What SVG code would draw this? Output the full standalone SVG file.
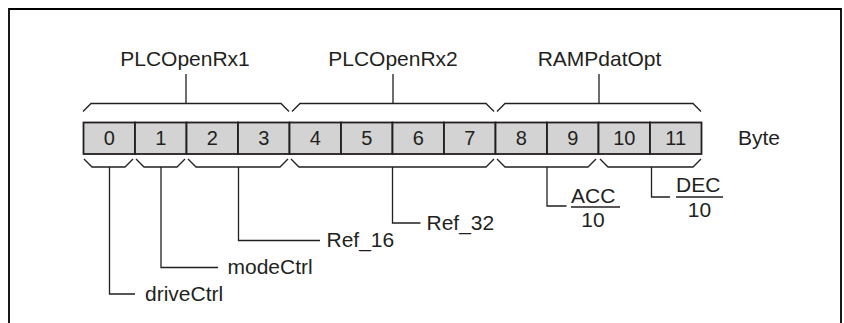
<svg xmlns="http://www.w3.org/2000/svg" width="844" height="323" viewBox="0 0 844 323">
<style>
.t{font-family:"Liberation Sans",Arial,sans-serif;font-size:21px;fill:#231f20}
.d{font-family:"Liberation Sans",Arial,sans-serif;font-size:20px;fill:#231f20;text-anchor:middle}
.c{fill:#d3d3d3;stroke:#231f20;stroke-width:1.8}
.l{fill:none;stroke:#231f20;stroke-width:1.3}
.f{fill:none;stroke:#000;stroke-width:1.8}
</style>
<rect width="844" height="323" fill="#fff"/>
<path class="f" d="M9,323 V9 H841 V323"/>
<g id="cells">
<rect class="c" x="83.5" y="122.5" width="51.5" height="31.5"/>
<rect class="c" x="135" y="122.5" width="51.5" height="31.5"/>
<rect class="c" x="186.5" y="122.5" width="51.5" height="31.5"/>
<rect class="c" x="238" y="122.5" width="51.5" height="31.5"/>
<rect class="c" x="289.5" y="122.5" width="51.5" height="31.5"/>
<rect class="c" x="341" y="122.5" width="51.5" height="31.5"/>
<rect class="c" x="392.5" y="122.5" width="51.5" height="31.5"/>
<rect class="c" x="444" y="122.5" width="51.5" height="31.5"/>
<rect class="c" x="495.5" y="122.5" width="51.5" height="31.5"/>
<rect class="c" x="547" y="122.5" width="51.5" height="31.5"/>
<rect class="c" x="598.5" y="122.5" width="51.5" height="31.5"/>
<rect class="c" x="650" y="122.5" width="51.5" height="31.5"/>
<text class="d" x="109.25" y="145">0</text>
<text class="d" x="160.75" y="145">1</text>
<text class="d" x="212.25" y="145">2</text>
<text class="d" x="263.75" y="145">3</text>
<text class="d" x="315.25" y="145">4</text>
<text class="d" x="366.75" y="145">5</text>
<text class="d" x="418.25" y="145">6</text>
<text class="d" x="469.75" y="145">7</text>
<text class="d" x="521.25" y="145">8</text>
<text class="d" x="572.75" y="145">9</text>
<text class="d" x="624.25" y="145">10</text>
<text class="d" x="675.75" y="145">11</text>
</g>
<g id="byte"><text class="t" x="738" y="145">Byte</text></g>
<g id="PLCOpenRx1">
<path class="l" d="M83,111.5 L91,103.5 H281 L289,111.5 M186,103.5 V74"/>
<text class="t" x="185" y="66" text-anchor="middle">PLCOpenRx1</text>
</g>
<g id="PLCOpenRx2">
<path class="l" d="M292,111.5 L300,103.5 H486 L494,111.5 M393,103.5 V74"/>
<text class="t" x="393" y="66" text-anchor="middle">PLCOpenRx2</text>
</g>
<g id="RAMPdatOpt">
<path class="l" d="M497,111.5 L505,103.5 H693 L701,111.5 M599,103.5 V74"/>
<text class="t" x="599.5" y="66" text-anchor="middle">RAMPdatOpt</text>
</g>
<g id="connectors">
<path class="l" d="M84,159 L92,167 H125 L133,159"/>
<path class="l" d="M136,159 L144,167 H177 L185,159"/>
<path class="l" d="M188,159 L196,167 H280 L288,159"/>
<path class="l" d="M291,159 L299,167 H486 L494,159"/>
<path class="l" d="M497,159 L505,167 H588 L596,159"/>
<path class="l" d="M600,159 L608,167 H693 L701,159"/>
<path class="l" d="M109.5,167 V294 H135"/>
<path class="l" d="M161,167 V267.5 H218"/>
<path class="l" d="M238.5,167 V240.5 H320"/>
<path class="l" d="M392.5,167 V223 H420.5"/>
<path class="l" d="M547,167 V206 H566.5"/>
<path class="l" d="M651.5,167 V197 H670"/>
</g>
<g id="driveCtrl"><text class="t" x="145" y="301">driveCtrl</text></g>
<g id="modeCtrl"><text class="t" x="227.5" y="274">modeCtrl</text></g>
<g id="Ref_16"><text class="t" x="326.5" y="247">Ref_16</text></g>
<g id="Ref_32"><text class="t" x="426.5" y="230">Ref_32</text></g>
<g id="ACC">
<text class="t" x="571" y="203">ACC</text>
<path class="l" d="M571,207 H620"/>
<text class="t" x="593" y="227" text-anchor="middle">10</text>
</g>
<g id="DEC">
<text class="t" x="676" y="192">DEC</text>
<path class="l" d="M676,197 H723"/>
<text class="t" x="699.5" y="217" text-anchor="middle">10</text>
</g>
</svg>
